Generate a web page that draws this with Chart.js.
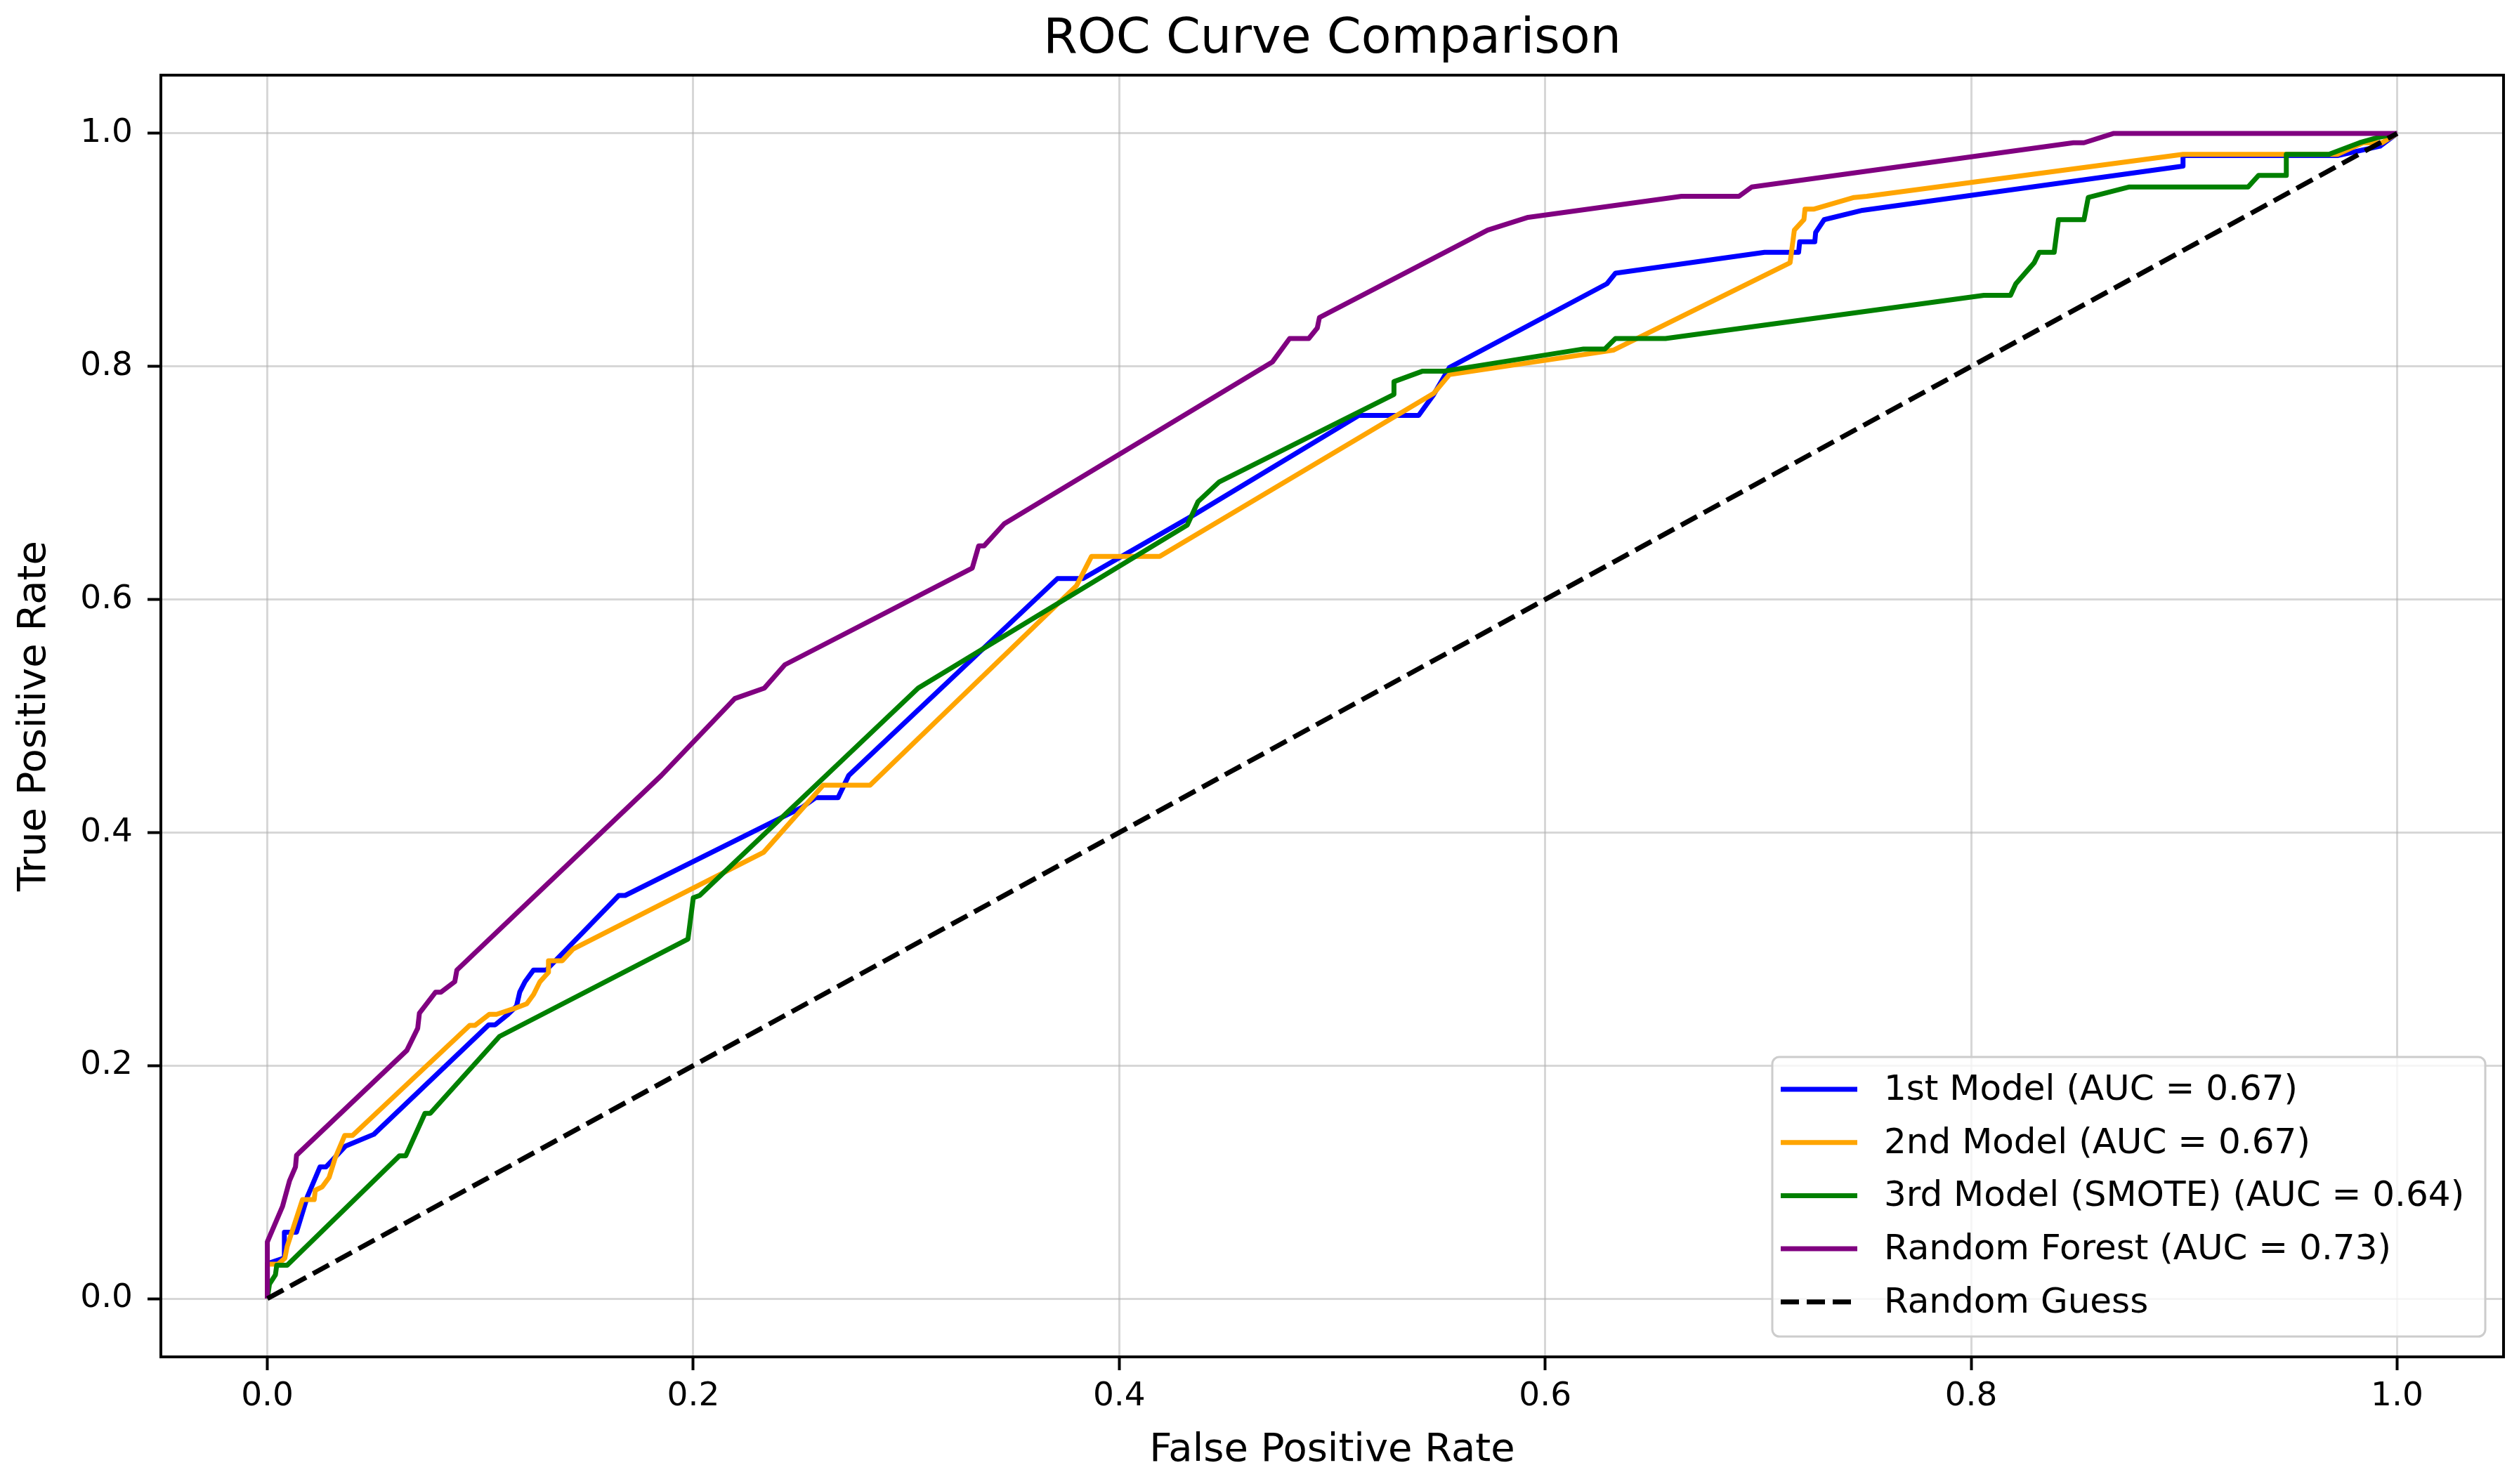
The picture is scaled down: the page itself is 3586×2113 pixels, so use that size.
<!DOCTYPE html>
<html lang="en">
<head>
    <meta charset="UTF-8">
    <title>ROC Curve Comparison</title>
    <script src="https://cdn.jsdelivr.net/npm/chart.js"></script>
    <style>
        body { margin: 0; background: #fff; }
    </style>
</head>
<body>
    <canvas id="roc" width="3586" height="2113"></canvas>
    <script>
        // values
        const chartTitle = "ROC Curve Comparison";
        const tickValues = [0.0, 0.2, 0.4, 0.6, 0.8, 1.0];
        const seriesLabels = ["1st Model (AUC = 0.67)", "2nd Model (AUC = 0.67)",
            "3rd Model (SMOTE) (AUC = 0.64)", "Random Forest (AUC = 0.73)", "Random Guess"];
        const seriesColors = ["#0000ff", "#ffa500", "#008000", "#800080", "#000000"];

        const fpr1 = [0, 0, 0.008, 0.008, 0.0137, 0.0187, 0.0247, 0.0275, 0.0368, 0.050,
            0.104, 0.107, 0.113, 0.117, 0.1185, 0.121, 0.125, 0.131, 0.165, 0.168,
            0.251, 0.2575, 0.268, 0.273, 0.371, 0.383, 0.4345, 0.5125, 0.5406, 0.5477,
            0.555, 0.629, 0.633, 0.703, 0.719, 0.7195, 0.7266, 0.727, 0.731, 0.749,
            0.8995, 0.8995, 0.972, 0.992, 1.0];
        const tpr1 = [0, 0.03, 0.035, 0.057, 0.057, 0.087, 0.113, 0.113, 0.131, 0.141,
            0.235, 0.235, 0.244, 0.251, 0.263, 0.272, 0.282, 0.282, 0.346, 0.346,
            0.4215, 0.430, 0.430, 0.449, 0.618, 0.618, 0.672, 0.758, 0.758, 0.776,
            0.799, 0.871, 0.880, 0.898, 0.898, 0.907, 0.907, 0.915, 0.926, 0.934,
            0.972, 0.981, 0.981, 0.989, 1.0];

        const fpr2 = [0, 0, 0.005, 0.0082, 0.0093, 0.0165, 0.022, 0.0225, 0.0258, 0.029,
            0.0319, 0.0363, 0.040, 0.095, 0.0975, 0.1042, 0.1076, 0.116, 0.1218, 0.125,
            0.128, 0.132, 0.132, 0.1385, 0.1435, 0.233, 0.261, 0.283, 0.380, 0.387,
            0.419, 0.5275, 0.5477, 0.555, 0.632, 0.715, 0.717, 0.7215, 0.722, 0.726,
            0.745, 0.751, 0.8995, 0.972, 0.984, 0.993, 1.0];
        const tpr2 = [0, 0.0296, 0.0296, 0.0346, 0.0447, 0.085, 0.085, 0.093, 0.096, 0.104,
            0.121, 0.140, 0.140, 0.2345, 0.2345, 0.244, 0.244, 0.249, 0.253, 0.261,
            0.272, 0.280, 0.290, 0.290, 0.300, 0.383, 0.4406, 0.4406, 0.612, 0.637,
            0.637, 0.755, 0.777, 0.793, 0.814, 0.889, 0.917, 0.926, 0.935, 0.935,
            0.945, 0.946, 0.982, 0.982, 0.992, 0.992, 1.0];

        const fpr3 = [0, 0.001, 0.0038, 0.0044, 0.0093, 0.062, 0.065, 0.074, 0.0765, 0.109,
            0.1975, 0.200, 0.203, 0.3056, 0.432, 0.437, 0.447, 0.529, 0.529, 0.5425,
            0.5527, 0.618, 0.628, 0.633, 0.6565, 0.806, 0.8185, 0.821, 0.8296, 0.832,
            0.839, 0.840, 0.841, 0.853, 0.855, 0.874, 0.930, 0.935, 0.948, 0.948,
            0.968, 0.9824, 0.990, 1.0];
        const tpr3 = [0, 0.0125, 0.0205, 0.0286, 0.0286, 0.1226, 0.1226, 0.159, 0.159, 0.225,
            0.3086, 0.344, 0.346, 0.524, 0.664, 0.684, 0.701, 0.776, 0.787, 0.796,
            0.796, 0.815, 0.815, 0.824, 0.824, 0.861, 0.861, 0.871, 0.889, 0.898,
            0.898, 0.912, 0.926, 0.926, 0.945, 0.954, 0.954, 0.964, 0.964, 0.982,
            0.982, 0.992, 0.996, 1.0];

        const fprRF = [0, 0, 0.0071, 0.0104, 0.0132, 0.0137, 0.0148, 0.0655, 0.0706, 0.0714,
            0.079, 0.0815, 0.088, 0.089, 0.185, 0.2195, 0.2334, 0.243, 0.331, 0.334,
            0.3365, 0.346, 0.472, 0.480, 0.489, 0.493, 0.494, 0.573, 0.592, 0.664,
            0.691, 0.697, 0.848, 0.853, 0.867, 1.0];
        const tprRF = [0, 0.0487, 0.079, 0.101, 0.113, 0.123, 0.125, 0.213, 0.232, 0.245,
            0.263, 0.263, 0.272, 0.282, 0.449, 0.515, 0.524, 0.544, 0.627, 0.646,
            0.646, 0.665, 0.804, 0.824, 0.824, 0.833, 0.842, 0.917, 0.928, 0.946,
            0.946, 0.954, 0.992, 0.992, 1.0, 1.0];

        const fprGuess = [0, 1];
        const tprGuess = [0, 1];

        const FONT = "'DejaVu Sans', sans-serif";

        function points(xs, ys) {
            return xs.map((x, i) => ({ x: x, y: ys[i] }));
        }

        const allX = [fpr1, fpr2, fpr3, fprRF, fprGuess];
        const allY = [tpr1, tpr2, tpr3, tprRF, tprGuess];

        const datasets = allX.map((xs, i) => ({
            label: seriesLabels[i],
            data: points(xs, allY[i]),
            borderColor: seriesColors[i],
            backgroundColor: seriesColors[i],
            borderWidth: 7,
            borderDash: i === 4 ? [26, 11] : [],
            borderJoinStyle: "round",
            showLine: true,
            pointRadius: 0,
            fill: false,
            tension: 0,
            order: 4 - i   // later series on top, like matplotlib
        }));

        // frame, title and a matplotlib style legend inside the axes
        const decor = {
            id: "decor",
            afterDraw(chart) {
                const ctx = chart.ctx;
                const a = chart.chartArea;
                ctx.save();
                ctx.strokeStyle = "#000";
                ctx.lineWidth = 4;
                ctx.strokeRect(a.left, a.top, a.right - a.left, a.bottom - a.top);

                ctx.fillStyle = "#000";
                ctx.font = "70px " + FONT;
                ctx.textAlign = "center";
                ctx.textBaseline = "alphabetic";
                ctx.fillText(chartTitle, (a.left + a.right) / 2, 75);

                // legend box
                const bw = 1015, bh = 398;
                const bx = a.right - 26 - bw, by = a.bottom - 29 - bh;
                ctx.beginPath();
                ctx.roundRect(bx, by, bw, bh, 10);
                ctx.fillStyle = "rgba(255,255,255,0.8)";
                ctx.fill();
                ctx.strokeStyle = "#cccccc";
                ctx.lineWidth = 3;
                ctx.stroke();

                ctx.font = "50px " + FONT;
                ctx.textAlign = "left";
                ctx.textBaseline = "middle";
                chart.data.datasets.forEach((ds, i) => {
                    const y = by + 46 + i * 75.7;
                    ctx.beginPath();
                    ctx.setLineDash(ds.borderDash);
                    ctx.strokeStyle = ds.borderColor;
                    ctx.lineWidth = 7;
                    ctx.moveTo(bx + 12, y);
                    ctx.lineTo(bx + 121, y);
                    ctx.stroke();
                    ctx.setLineDash([]);
                    ctx.fillStyle = "#000";
                    ctx.fillText(ds.label, bx + 159, y + 2);
                });
                ctx.restore();
            }
        };

        function axis(titleText, isX) {
            return {
                type: "linear",
                min: -0.05,
                max: 1.05,
                afterBuildTicks: s => { s.ticks = tickValues.map(v => ({ value: v })); },
                afterFit: s => {
                    if (isX) { s.height = 181; } else { s.width = 229; }
                },
                ticks: {
                    callback: v => v.toFixed(1),
                    font: { family: FONT, size: 47 },
                    color: "#000",
                    padding: isX ? 10 : 21,
                    maxRotation: 0,
                    autoSkip: false
                },
                grid: {
                    color: "rgba(176,176,176,0.5)",
                    lineWidth: 3,
                    tickColor: "#000",
                    tickLength: 19,
                    tickWidth: 4
                },
                border: { display: false },
                title: {
                    display: true,
                    text: titleText,
                    font: { family: FONT, size: 56 },
                    color: "#000",
                    padding: isX ? { top: 0, bottom: 14 } : { top: 16, bottom: 0 }
                }
            };
        }

        new Chart(document.getElementById("roc"), {
            type: "scatter",
            data: { datasets: datasets },
            options: {
                responsive: false,
                animation: false,
                devicePixelRatio: 1,
                layout: { padding: { top: 107, right: 22, left: 0, bottom: 0 } },
                plugins: {
                    legend: { display: false },
                    tooltip: { enabled: false },
                    title: { display: false }
                },
                scales: {
                    x: axis("False Positive Rate", true),
                    y: axis("True Positive Rate", false)
                }
            },
            plugins: [decor]
        });
    </script>
</body>
</html>
